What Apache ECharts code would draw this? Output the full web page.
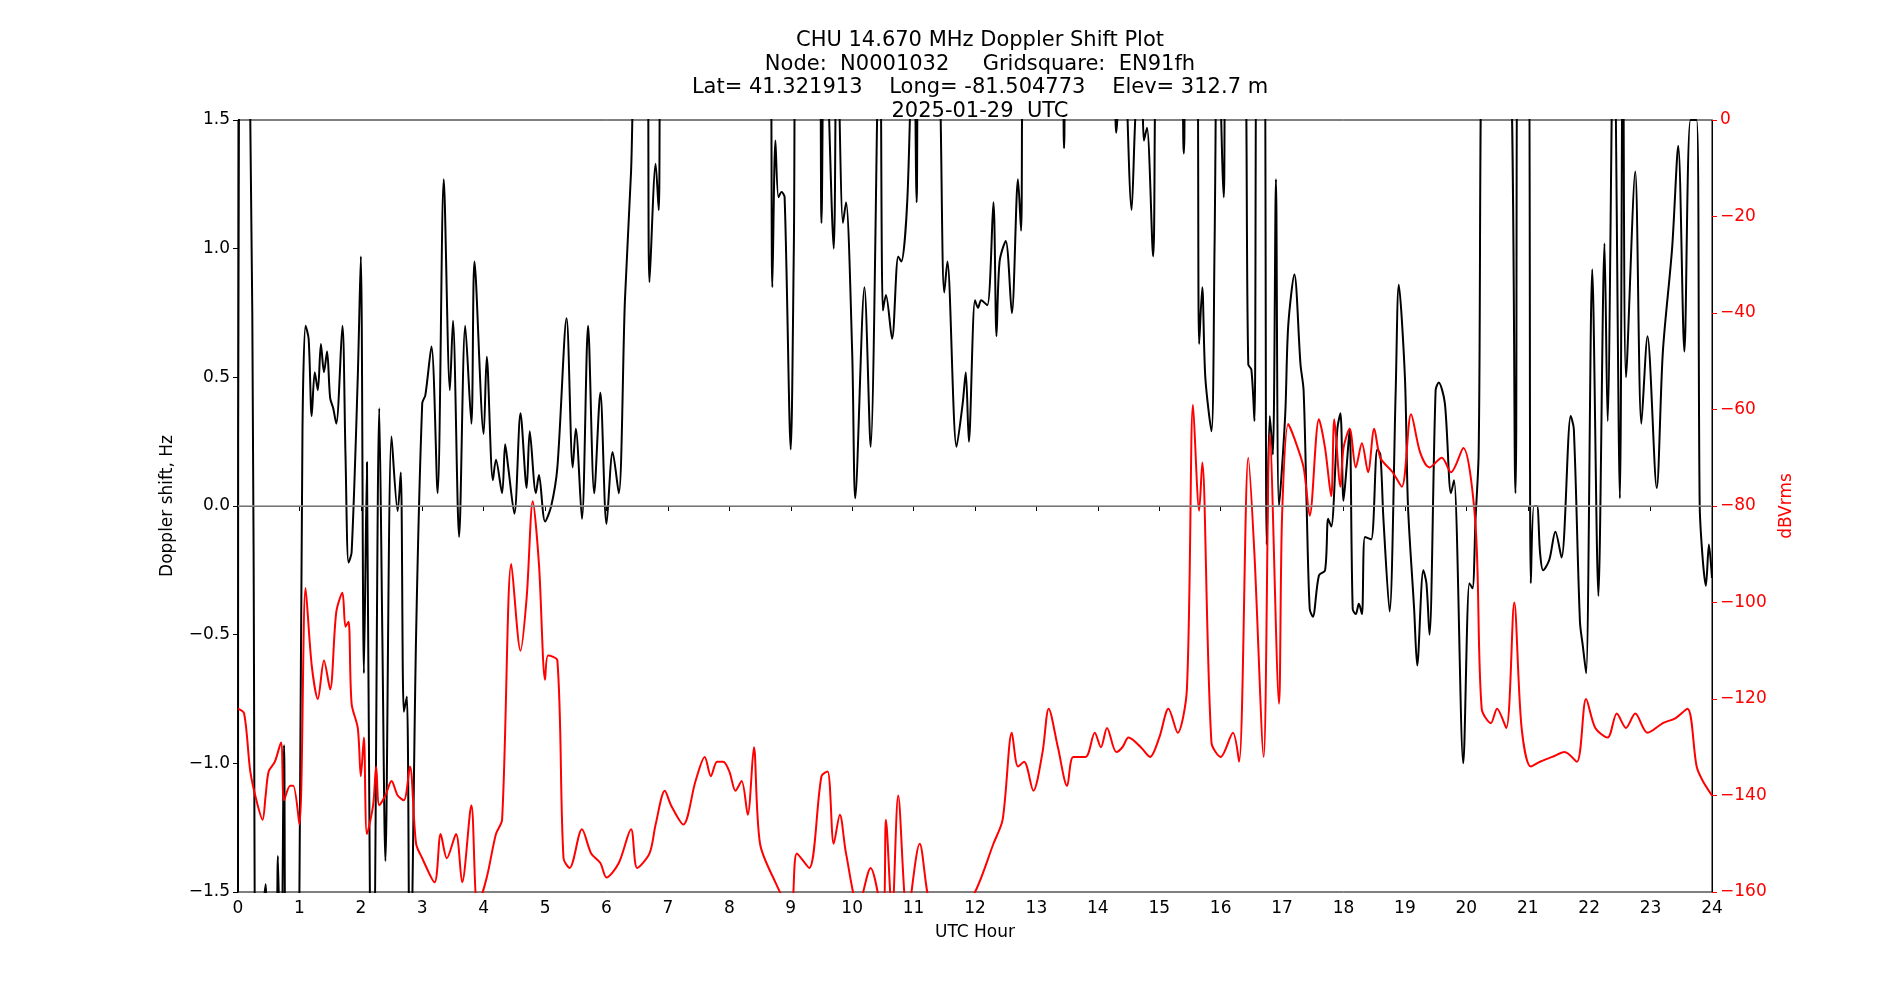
<!DOCTYPE html>
<html><head><meta charset="utf-8">
<script src="https://cdn.jsdelivr.net/npm/echarts@6/dist/echarts.min.js"></script>
<style>html,body{margin:0;background:#fff}#c{width:1900px;height:1000px}</style>
</head><body><div id="c"></div>
<script>
// Doppler shift (hour, Hz)
var dopplerHours = [0,0.02,0.1,0.2,0.25,0.3,0.4,0.45,0.5,0.6,0.65,0.7,0.75,0.8,0.95,1.0,1.05,1.1,1.15,1.2,1.25,1.3,1.35,1.4,1.45,1.5,1.55,1.6,1.7,1.75,1.8,1.85,1.95,2.0,2.05,2.1,2.15,2.2,2.3,2.35,2.4,2.5,2.6,2.65,2.7,2.75,2.8,2.9,3.0,3.05,3.15,3.25,3.35,3.45,3.5,3.6,3.7,3.8,3.85,4.0,4.05,4.15,4.2,4.3,4.35,4.4,4.5,4.6,4.7,4.75,4.85,4.9,5.0,5.1,5.2,5.35,5.45,5.5,5.6,5.7,5.8,5.9,6.0,6.1,6.2,6.3,6.4,6.5,6.65,6.7,6.8,6.85,6.9,8.65,8.7,8.75,8.8,8.85,8.9,9.0,9.05,9.1,9.45,9.5,9.55,9.7,9.75,9.85,9.9,10.0,10.05,10.2,10.3,10.45,10.5,10.55,10.65,10.75,10.8,10.9,11.0,11.05,11.1,11.35,11.5,11.55,11.7,11.8,11.85,11.9,12.0,12.05,12.1,12.2,12.3,12.35,12.4,12.5,12.6,12.7,12.75,12.8,13.4,13.45,13.5,14.2,14.3,14.4,14.55,14.6,14.7,14.75,14.8,14.9,15.0,15.3,15.4,15.45,15.6,15.65,15.7,15.75,15.85,15.9,15.95,16.05,16.1,16.35,16.45,16.5,16.55,16.6,16.7,16.75,16.8,16.85,16.9,16.95,17.05,17.1,17.2,17.3,17.35,17.4,17.45,17.5,17.6,17.7,17.75,17.8,17.9,17.95,18.0,18.05,18.1,18.15,18.2,18.25,18.3,18.35,18.45,18.55,18.6,18.65,18.75,18.85,18.9,19.0,19.05,19.15,19.2,19.3,19.35,19.4,19.5,19.55,19.65,19.75,19.8,19.95,20.05,20.1,20.15,20.2,20.3,20.65,20.8,20.85,21.0,21.05,21.1,21.15,21.2,21.25,21.35,21.45,21.55,21.7,21.75,21.85,21.9,21.95,22.05,22.15,22.25,22.3,22.4,22.5,22.55,22.6,22.75,22.85,22.95,23.1,23.2,23.35,23.45,23.55,23.65,23.75,23.8,23.85,23.9,23.95,24.0];
var dopplerHz = [-1.5,2,2,1.5,0,-2,-1.6,-1.47,-2,-2,-1.36,-2,-0.93,-2,-2,-1.5,0.3,0.7,0.65,0.35,0.52,0.45,0.63,0.52,0.6,0.42,0.38,0.32,0.7,0.2,-0.22,-0.18,0.5,0.97,-0.65,0.17,-1.6,-2,0.38,-0.5,-1.38,0.27,-0.02,0.13,-0.8,-0.74,-2,-0.5,0.4,0.43,0.62,0.05,1.27,0.45,0.72,-0.12,0.7,0.32,0.95,0.28,0.58,0.1,0.18,0.05,0.24,0.15,-0.03,0.36,0.07,0.29,0.05,0.12,-0.06,0,0.15,0.73,0.15,0.3,-0.05,0.7,0.05,0.44,-0.07,0.21,0.05,0.8,1.3,2,2,0.87,1.33,1.15,2,2,0.85,1.42,1.2,1.22,1.2,0.22,1.0,2,2,1.1,2,1.0,2,1.1,1.18,0.6,0.03,0.85,0.23,2,0.76,0.82,0.65,0.97,0.95,1.2,2,1.18,2,2,0.83,0.95,0.23,0.4,0.52,0.25,0.8,0.77,0.8,0.78,1.18,0.66,0.95,1.03,0.75,1.27,1.07,2,2,1.39,2,2,1.45,2,1.15,1.45,2,1.42,1.47,0.97,2,2,1.37,2,2,0.63,0.85,0.5,0.29,1.0,2,1.2,2,2,0.55,0.53,0.33,2,2,-0.15,0.35,0.2,1.27,0,0.35,0.7,0.9,0.55,0.45,0,-0.4,-0.43,-0.27,-0.25,-0.05,-0.08,0.3,0.36,0.02,0.15,0.3,-0.4,-0.42,-0.38,-0.42,-0.12,-0.13,0.22,0.2,-0.05,-0.41,0.45,0.86,0.5,0,-0.4,-0.62,-0.25,-0.3,-0.5,0.45,0.48,0.4,0.05,0.1,-1.0,-0.3,-0.32,-0.05,0.2,2,2,0.05,2,2,-0.3,0,0,-0.18,-0.25,-0.21,-0.1,-0.2,0.35,0.3,-0.45,-0.55,-0.65,0.92,-0.35,1.02,0.33,2,0.03,2,0.5,1.3,0.32,0.66,0.07,0.6,1.0,1.4,0.6,1.5,1.5,0,-0.21,-0.31,-0.15,-0.28];
// Signal level (hour, dBVrms)
var levelHours = [0,0.1,0.2,0.3,0.4,0.45,0.5,0.6,0.7,0.75,0.85,0.9,1.0,1.1,1.2,1.3,1.4,1.5,1.6,1.7,1.75,1.8,1.85,1.95,2.0,2.05,2.1,2.2,2.25,2.3,2.4,2.5,2.6,2.7,2.8,2.9,3.0,3.2,3.3,3.4,3.55,3.65,3.8,3.9,4.05,4.2,4.3,4.45,4.6,4.7,4.8,4.9,5.0,5.05,5.2,5.3,5.4,5.6,5.75,5.9,6.0,6.2,6.4,6.5,6.7,6.8,6.95,7.05,7.25,7.45,7.6,7.7,7.8,7.9,8.0,8.1,8.2,8.3,8.4,8.5,8.75,9.0,9.1,9.3,9.5,9.6,9.7,9.8,9.9,10.1,10.3,10.5,10.55,10.65,10.75,10.9,11.1,11.3,11.5,11.7,12.0,12.3,12.45,12.6,12.7,12.8,12.95,13.1,13.2,13.35,13.5,13.6,13.8,13.95,14.05,14.15,14.3,14.4,14.5,14.7,14.85,15.0,15.15,15.3,15.45,15.55,15.65,15.7,15.85,16.0,16.2,16.3,16.45,16.55,16.7,16.8,16.95,17.0,17.1,17.2,17.35,17.45,17.6,17.7,17.8,17.85,17.95,18.0,18.1,18.2,18.3,18.4,18.5,18.6,18.8,18.95,19.1,19.25,19.4,19.6,19.75,19.95,20.15,20.25,20.4,20.5,20.65,20.78,20.9,21.05,21.2,21.4,21.6,21.8,21.95,22.1,22.3,22.45,22.6,22.75,22.95,23.2,23.4,23.6,23.75,23.85,24.0];
var levelDb = [-122,-123,-135,-141,-145,-140,-135,-133,-129,-141,-138,-138,-146,-97,-113,-120,-112,-118,-102,-98,-105,-104,-121,-126,-136,-128,-148,-142,-134,-142,-140,-137,-140,-141,-134,-150,-153,-158,-148,-153,-148,-158,-142,-163,-157,-148,-145,-92,-110,-99,-79,-92,-116,-111,-112,-153,-155,-147,-152,-154,-157,-154,-147,-155,-152,-146,-139,-142,-146,-137,-132,-136,-133,-133,-135,-139,-137,-144,-130,-150,-158,-164,-152,-155,-136,-135,-150,-144,-152,-163,-155,-165,-145,-165,-140,-165,-150,-163,-162,-165,-160,-150,-145,-127,-134,-133,-139,-131,-122,-130,-138,-132,-132,-127,-130,-126,-131,-130,-128,-130,-132,-128,-122,-127,-118,-59,-81,-71,-129,-132,-127,-133,-70,-90,-132,-65,-121,-82,-63,-66,-72,-82,-62,-68,-78,-62,-76,-68,-64,-72,-67,-73,-64,-70,-73,-76,-61,-69,-72,-70,-73,-68,-84,-122,-125,-122,-126,-100,-126,-134,-133,-132,-131,-133,-120,-126,-128,-123,-126,-123,-127,-125,-124,-122,-134,-137,-140];

function pairs(xs, ys) { return xs.map(function (x, i) { return [x, ys[i]]; }); }

var font = 'DejaVu Sans';
var chart = echarts.init(document.getElementById('c'));
chart.setOption({
    animation: false,
    title: {
        text: 'CHU 14.670 MHz Doppler Shift Plot\nNode:  N0001032     Gridsquare:  EN91fh\nLat= 41.321913    Long= -81.504773    Elev= 312.7 m\n2025-01-29  UTC',
        left: 975, top: 24, textAlign: 'center',
        textStyle: {fontFamily: font, fontSize: 21, fontWeight: 'normal', lineHeight: 23.5, color: '#000'}
    },
    grid: {left: 238, right: 188, top: 120, bottom: 108, show: true, borderColor: '#000', borderWidth: 1},
    xAxis: {
        type: 'value', min: 0, max: 24, interval: 1,
        name: 'UTC Hour', nameLocation: 'middle', nameGap: 32,
        nameTextStyle: {fontFamily: font, fontSize: 17, color: '#000'},
        axisLine: {lineStyle: {color: '#000'}},
        axisTick: {length: 5, lineStyle: {color: '#000'}},
        axisLabel: {fontFamily: font, fontSize: 17, color: '#000', margin: 8},
        splitLine: {show: false}
    },
    yAxis: [{
        type: 'value', min: -1.5, max: 1.5, interval: 0.5,
        name: 'Doppler shift, Hz', nameLocation: 'middle', nameGap: 62, nameRotate: 90,
        nameTextStyle: {fontFamily: font, fontSize: 17, color: '#000'},
        axisLine: {show: true, lineStyle: {color: '#000'}},
        axisTick: {show: true, length: 5, lineStyle: {color: '#000'}},
        axisLabel: {fontFamily: font, fontSize: 17, color: '#000', formatter: function (v) { return v.toFixed(1).replace('-', '\u2212'); }},
        splitLine: {show: false}
    }, {
        type: 'value', min: -160, max: 0, interval: 20, position: 'right',
        name: 'dBVrms', nameLocation: 'middle', nameGap: 58, nameRotate: 90,
        nameTextStyle: {fontFamily: font, fontSize: 17, color: '#ff0000'},
        axisLine: {show: true, lineStyle: {color: '#000'}},
        axisTick: {show: true, length: 5, lineStyle: {color: '#ff0000'}},
        axisLabel: {fontFamily: font, fontSize: 17, color: '#ff0000', formatter: function (v) { return String(v).replace('-', '\u2212'); }},
        splitLine: {show: false}
    }],
    series: [{
        type: 'line', yAxisIndex: 0, data: pairs(dopplerHours, dopplerHz),
        showSymbol: false, smooth: 0.3, clip: true,
        lineStyle: {color: '#000', width: 2},
        markLine: {silent: true, symbol: 'none', label: {show: false},
            lineStyle: {color: '#999', type: 'solid', width: 1.5}, data: [{yAxis: 0}]}
    }, {
        type: 'line', yAxisIndex: 1, data: pairs(levelHours, levelDb),
        showSymbol: false, smooth: 0.3, clip: true,
        lineStyle: {color: '#ff0000', width: 2}
    }]
});
</script></body></html>
